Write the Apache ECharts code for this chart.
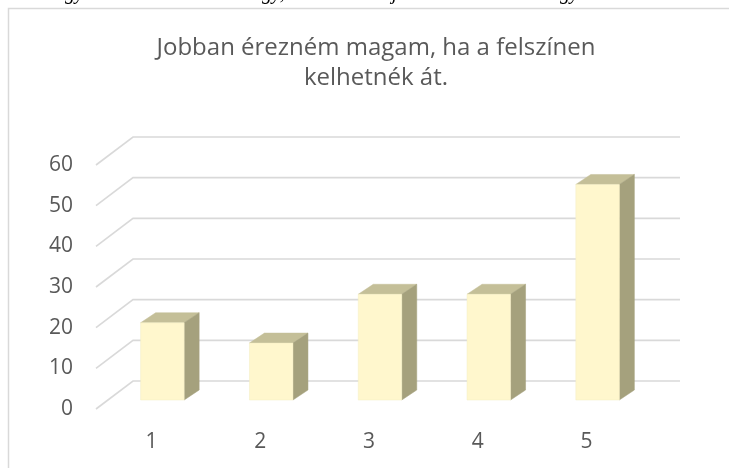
<!DOCTYPE html>
<html>
<head>
<meta charset="utf-8">
<script src="https://cdn.jsdelivr.net/npm/echarts@6/dist/echarts.min.js"></script>
<style>
  html, body { margin: 0; padding: 0; background: #fff; }
  #main { width: 729px; height: 468px; }
</style>
</head>
<body>
<div id="main"></div>
<script>
// answers on the 1..5 scale
var categories = ['1', '2', '3', '4', '5'];
var counts = [19, 14, 26, 26, 53];
var yTicks = [0, 10, 20, 30, 40, 50, 60];

var titleText = 'Jobban érezném magam, ha a felszínen\nkelhetnék át.';

// 3d look (pixels)
var backDx = 37, backDy = -28;   // front plane -> back wall
var barDx = 11, barDy = -9;      // front plane -> bar front face
var depthDx = 15, depthDy = -10; // bar thickness

var chartDom = document.getElementById('main');
var myChart = echarts.init(chartDom);

function renderWall(params, api) {
  var cs = params.coordSys;
  var p = api.coord([0, api.value(1)]);
  var x0 = cs.x - 1, y = p[1];
  return {
    type: 'polyline',
    shape: { points: [[x0, y], [x0 + backDx, y + backDy], [cs.x + cs.width + backDx + 2, y + backDy]] },
    style: { stroke: '#d9d9d9', lineWidth: 1.6, fill: null },
    silent: true
  };
}

function renderBar(params, api) {
  var i = api.value(0);
  var base = api.coord([i, 0]);
  var top = api.coord([i, api.value(1)]);
  var w = api.size([1, 0])[0] * 0.4;
  var L = base[0] + barDx - w / 2, R = L + w;
  var B = base[1] + barDy, T = top[1] + barDy;
  return {
    type: 'group',
    children: [
      { type: 'polygon', shape: { points: [[L, T], [R, T], [R + depthDx, T + depthDy], [L + depthDx, T + depthDy]] },
        style: { fill: '#c4bf98', stroke: '#c4bf98', lineWidth: 0.5 } },
      { type: 'polygon', shape: { points: [[R, T], [R + depthDx, T + depthDy], [R + depthDx, B + depthDy], [R, B]] },
        style: { fill: '#a5a17d', stroke: '#a5a17d', lineWidth: 0.5 } },
      { type: 'rect', shape: { x: L, y: T, width: w, height: B - T },
        style: { fill: '#fff7cd', stroke: '#f3ecc3', lineWidth: 0.5 } }
    ]
  };
}

var option = {
  animation: false,
  backgroundColor: '#fff',
  title: {
    text: titleText,
    left: 371,
    textAlign: 'center',
    top: 28,
    textStyle: { fontFamily: 'Open Sans', fontSize: 24, fontWeight: 'normal', color: '#595959', lineHeight: 30 }
  },
  grid: { left: 97, right: 88, top: 165, bottom: 59 },
  xAxis: {
    type: 'category',
    data: categories,
    axisLine: { show: false },
    axisTick: { show: false },
    axisLabel: { margin: 23, fontFamily: 'Open Sans', fontSize: 21, color: '#595959' }
  },
  yAxis: {
    type: 'value',
    min: 0,
    max: 60,
    interval: 10,
    splitLine: { show: false },
    axisLabel: { margin: 24, fontFamily: 'Open Sans', fontSize: 21, color: '#595959' }
  },
  graphic: [
    { type: 'rect', shape: { x: 8.5, y: 8.5, width: 740, height: 480 }, style: { fill: null, stroke: '#d9d9d9', lineWidth: 1.5 }, silent: true },
    { type: 'text', left: 55, top: -16, style: { text: 'ngy', font: 'italic 20px "Liberation Serif"', fill: '#000' } },
    { type: 'text', left: 262, top: -16, style: { text: 'gy,', font: 'italic 20px "Liberation Serif"', fill: '#000' } },
    { type: 'text', left: 392, top: -16, style: { text: 'j', font: 'italic 20px "Liberation Serif"', fill: '#000' } },
    { type: 'text', left: 560, top: -16, style: { text: 'gy', font: 'italic 20px "Liberation Serif"', fill: '#000' } }
  ],
  series: [
    {
      type: 'custom',
      renderItem: renderWall,
      data: yTicks.map(function (v) { return [0, v]; }),
      z: 1,
      silent: true
    },
    {
      type: 'custom',
      renderItem: renderBar,
      data: counts.map(function (v, i) { return [i, v]; }),
      z: 2
    }
  ]
};

option && myChart.setOption(option);
</script>
</body>
</html>
